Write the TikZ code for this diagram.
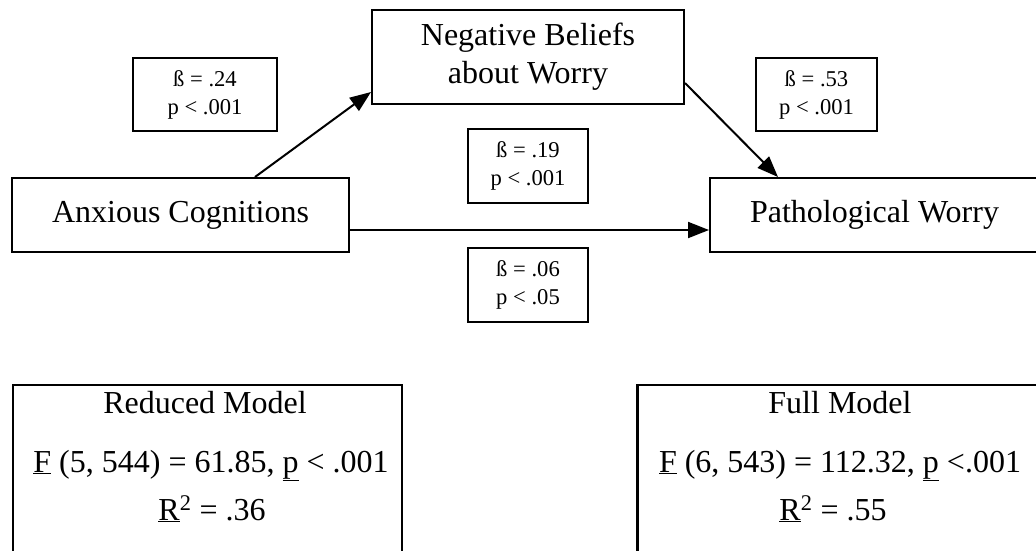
\documentclass[tikz,border=0pt]{standalone}
\usepackage{fontspec}
\setmainfont{Liberation Serif}
\usetikzlibrary{arrows.meta}
\begin{document}
\begin{tikzpicture}[x=1pt,y=-1pt,
  box/.style={draw, line width=2pt, rectangle, inner sep=0pt, align=center,
    font=\fontsize{32}{38}\selectfont},
  coef/.style={draw, line width=1.8pt, rectangle, inner sep=0pt, align=center,
    font=\fontsize{22.6}{28}\selectfont},
  model/.style={draw, line width=2.5pt, rectangle, inner sep=0pt},
  mtext/.style={anchor=base, inner sep=0pt, font=\fontsize{32}{38}\selectfont},
  arr/.style={line width=2pt, -{Triangle[length=21pt,width=16pt]}}]
\clip (0,0) rectangle (1036,550);
% main boxes
\node[box, minimum width=312pt, minimum height=94pt] (neg) at (528,57) {Negative Beliefs\\about Worry};
\node[box, minimum width=337pt, minimum height=74pt] (anx) at (180.5,215) {Anxious Cognitions};
\node[box, minimum width=331pt, minimum height=74pt, anchor=west] (pat) at (709,215) {\hspace*{-2pt}Pathological Worry};
% coefficient boxes
\node[coef, minimum width=144pt, minimum height=73pt] (b24) at (205,94.5) {ß = .24\\p < .001};
\node[coef, minimum width=121pt, minimum height=73pt] (b53) at (816.5,94.5) {ß = .53\\p < .001};
\node[coef, minimum width=120pt, minimum height=74pt] (b19) at (528,166) {ß = .19\\p < .001};
\node[coef, minimum width=120pt, minimum height=74pt] (b06) at (528,285) {ß = .06\\p < .05};
% arrows
\draw[arr] ([xshift=74.5pt]anx.north) -- ([yshift=-35pt]neg.west);
\draw[arr] ([yshift=-26pt]neg.east) -- ([xshift=69pt]pat.north west);
\draw[arr] ([yshift=-15pt]anx.east) -- ([yshift=-15pt]pat.west);
% model boxes
\node[model, minimum width=389pt, minimum height=190pt] (red) at (207.5,480) {};
\node[model, minimum width=404pt, minimum height=190pt, anchor=west] (full) at (636,480) {};
\node[mtext] (redt) at (205,413) {Reduced Model};
\node[mtext] (redf) at (211,472) {\underline{F} (5, 544) = 61.85, \underline{p} < .001};
\node[mtext] (redr) at (212,520) {\underline{R}\textsuperscript{2} = .36};
\node[mtext] (fullt) at (840,413) {Full Model};
\node[mtext] (fullf) at (840,472) {\underline{F} (6, 543) = 112.32, \underline{p} <.001};
\node[mtext] (fullr) at (833,520) {\underline{R}\textsuperscript{2} = .55};
\end{tikzpicture}
\end{document}
